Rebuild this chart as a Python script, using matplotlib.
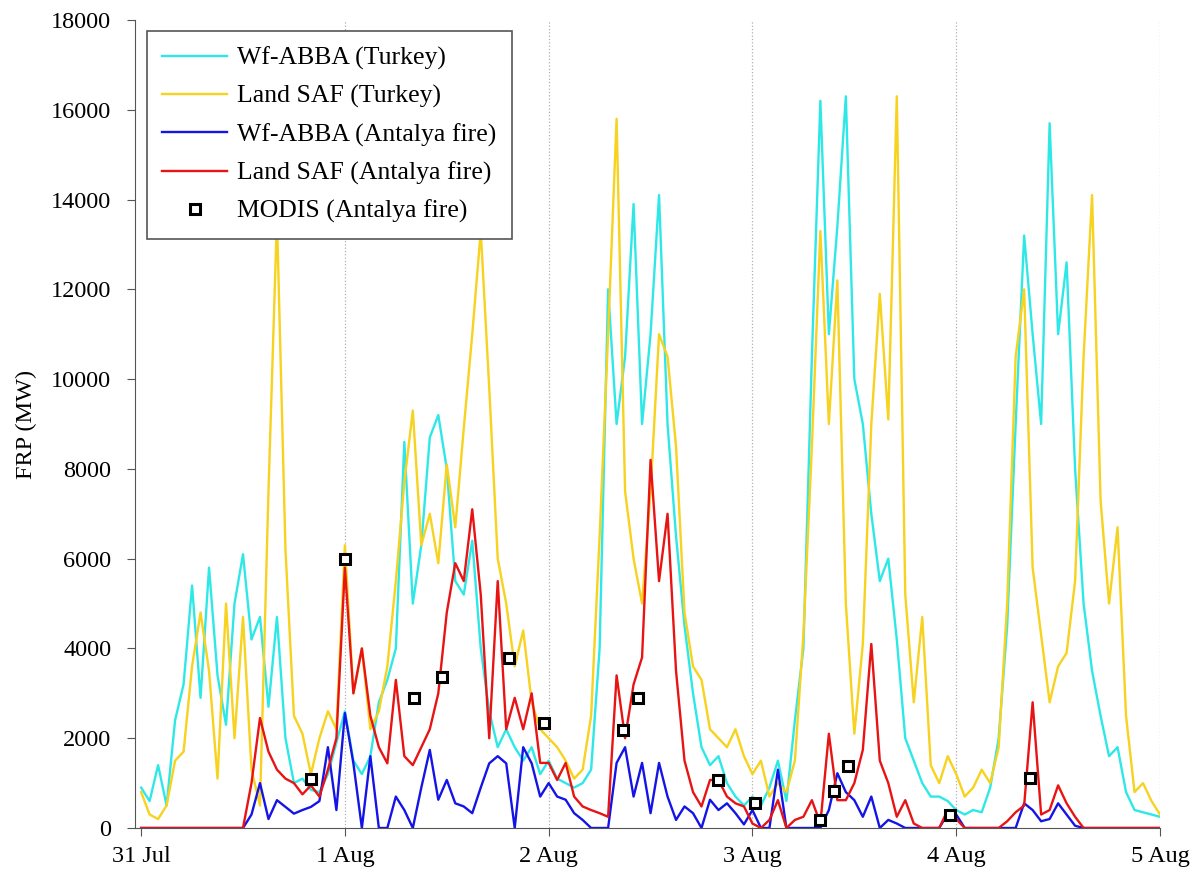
import numpy as np
import matplotlib
matplotlib.use("Agg")
import matplotlib.pyplot as plt

# hourly FRP values (MW), starting 31 Jul 00:00
wf_turkey = [
    900, 600, 1400, 500, 2400, 3200, 5400, 2900, 5800, 3400, 2300, 5000,
    6100, 4200, 4700, 2700, 4700, 2000, 1000, 1100, 850, 800, 1200, 1900,
    2600, 1500, 1200, 1600, 2800, 3300, 4000, 8600, 5000, 6300, 8700, 9200,
    8000, 5500, 5200, 6400, 4000, 2600, 1800, 2200, 1800, 1500, 1800, 1200,
    1500, 1100, 1000, 900, 1000, 1300, 4000, 12000, 9000, 10500, 13900, 9000,
    11000, 14100, 9000, 6500, 4500, 3000, 1800, 1400, 1600, 1000, 700, 500,
    700, 500, 900, 1500, 600, 2400, 4000, 10500, 16200, 11000, 13400, 16300,
    10000, 9000, 7000, 5500, 6000, 4200, 2000, 1500, 1000, 700, 700, 600,
    400, 300, 400, 350, 900, 2000, 4500, 9000, 13200, 11000, 9000, 15700,
    11000, 12600, 8000, 5000, 3500, 2500, 1600, 1800, 800, 400, 350, 300,
    250,
]
saf_turkey = [
    800, 300, 200, 500, 1500, 1700, 3600, 4800, 3500, 1100, 5000, 2000,
    4700, 1300, 500, 7500, 13600, 6200, 2500, 2100, 1200, 2000, 2600, 2200,
    6300, 3000, 4000, 2200, 2600, 3600, 5500, 7700, 9300, 6300, 7000, 5900,
    8100, 6700, 8900, 11000, 13300, 9800, 6000, 5000, 3600, 4400, 2800, 2200,
    2000, 1800, 1500, 1100, 1300, 2500, 6500, 11000, 15800, 7500, 6000, 5000,
    7500, 11000, 10500, 8500, 4800, 3600, 3300, 2200, 2000, 1800, 2200, 1600,
    1200, 1500, 700, 1000, 800, 1500, 4300, 8500, 13300, 9000, 12200, 5000,
    2100, 4100, 9000, 11900, 9100, 16300, 5200, 2800, 4700, 1400, 1000, 1600,
    1200, 700, 900, 1300, 1000, 1800, 5000, 10500, 12000, 5800, 4300, 2800,
    3600, 3900, 5500, 10500, 14100, 7300, 5000, 6700, 2500, 800, 1000, 600,
    300,
]
wf_antalya = [
    0, 0, 0, 0, 0, 0, 0, 0, 0, 0, 0, 0,
    0, 300, 1000, 200, 620, 470, 320, 400, 470, 600, 1800, 400,
    2560, 1440, 0, 1600, 0, 0, 700, 400, 0, 900, 1740, 630,
    1070, 550, 480, 330, 900, 1440, 1600, 1440, 0, 1800, 1440, 700,
    1000, 700, 630, 330, 180, 0, 0, 0, 1450, 1800, 700, 1450,
    330, 1450, 700, 180, 480, 330, 0, 630, 400, 550, 330, 80,
    400, 0, 0, 1300, 0, 0, 0, 0, 0, 400, 1220, 800,
    620, 250, 700, 0, 180, 100, 0, 0, 0, 0, 0, 320,
    300, 0, 0, 0, 0, 0, 0, 0, 550, 400, 150, 200,
    550, 300, 50, 0, 0, 0, 0, 0, 0, 0, 0, 0,
    0,
]
saf_antalya = [
    0, 0, 0, 0, 0, 0, 0, 0, 0, 0, 0, 0,
    0, 1000, 2450, 1700, 1300, 1100, 1000, 750, 950, 700, 1300, 2000,
    5800, 3000, 4000, 2500, 1800, 1440, 3300, 1600, 1400, 1800, 2200, 3000,
    4800, 5900, 5500, 7100, 5200, 2000, 5500, 2200, 2900, 2200, 3000, 1450,
    1450, 1070, 1450, 700, 480, 400, 330, 250, 3400, 2000, 3200, 3800,
    8200, 5500, 7000, 3500, 1500, 800, 480, 1070, 1070, 700, 550, 480,
    100, 0, 180, 620, 0, 180, 250, 620, 100, 2100, 620, 620,
    1000, 1740, 4100, 1500, 1000, 250, 620, 100, 0, 0, 0, 400,
    200, 0, 0, 0, 0, 0, 150, 350, 500, 2800, 300, 400,
    950, 550, 250, 0, 0, 0, 0, 0, 0, 0, 0, 0,
    0,
]

# MODIS overpasses: hours since 31 Jul 00:00 and FRP (MW)
modis_hours = [20.0, 24.0, 32.1, 35.4, 43.3, 47.4, 56.8, 58.5, 67.9, 72.3,
               79.9, 81.6, 83.2, 95.3, 104.7]
modis_frp = [1100, 6000, 2900, 3370, 3780, 2350, 2180, 2890, 1060, 550,
             180, 830, 1380, 290, 1110]

day_labels = ["31 Jul", "1 Aug", "2 Aug", "3 Aug", "4 Aug", "5 Aug"]

plt.rcParams["font.family"] = ["Liberation Serif", "DejaVu Serif"]

t = np.arange(len(wf_turkey)) / 24.0
t_modis = np.array(modis_hours) / 24.0

fig = plt.figure(figsize=(11.95, 8.81), dpi=100)
ax = fig.add_axes([135 / 1195, 53 / 881, 1025 / 1195, 808 / 881])

ax.plot(t, wf_turkey, color="#2ee8e8", lw=1.7, label="Wf-ABBA (Turkey)")
ax.plot(t, saf_turkey, color="#f7d21e", lw=1.7, label="Land SAF (Turkey)")
ax.plot(t, wf_antalya, color="#1414e6", lw=1.7, label="Wf-ABBA (Antalya fire)")
ax.plot(t, saf_antalya, color="#e81414", lw=1.7, label="Land SAF (Antalya fire)")
ax.plot(t_modis, modis_frp, ls="none", marker="s", ms=7, mfc="white",
        mec="black", mew=2.2, label="MODIS (Antalya fire)")

ax.set_xlim(-0.03, 5.0)
ax.set_ylim(0, 18000)
ax.set_xticks(range(len(day_labels)))
ax.set_xticklabels(day_labels)
ax.set_yticks(range(0, 18001, 2000))
# dotted day separators (no line on the first day, it sits on the axis)
for d in range(1, len(day_labels)):
    ax.axvline(d, color="#b0b0b0", ls=":", lw=0.9, zorder=0)

for s in ["top", "right"]:
    ax.spines[s].set_visible(False)
for s in ["left", "bottom"]:
    ax.spines[s].set_color("#555555")
ax.tick_params(axis="both", labelsize=17.5, length=6, color="#555555")
ax.tick_params(axis="y", pad=11)
ax.tick_params(axis="x", pad=7)
ax.set_ylabel("FRP (MW)", fontsize=17.5, labelpad=10)

leg = ax.legend(loc="upper left", bbox_to_anchor=(0.0117, 0.986),
                borderaxespad=0, fontsize=18.5, fancybox=False,
                framealpha=1, edgecolor="#555555", handlelength=2.5,
                handletextpad=0.4, labelspacing=0.58, borderpad=0.6)
leg.get_frame().set_linewidth(1.2)

fig.savefig("out.png", dpi=100)
